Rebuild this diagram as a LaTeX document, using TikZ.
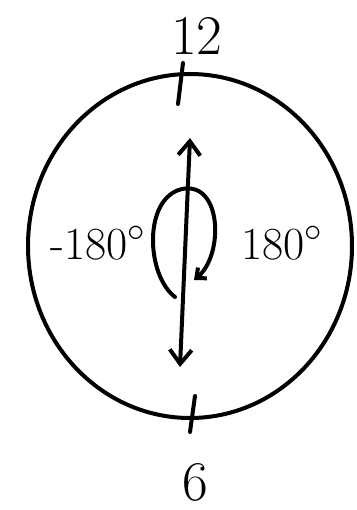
\documentclass[tikz,border=0pt]{standalone}
\usetikzlibrary{arrows.meta,shapes.geometric}
\tikzset{
  barb/.tip={Straight Barb[length=7pt,width=11pt,line width=2pt]},
  hook/.tip={Straight Barb[length=4pt,width=7pt,line width=2pt]}
}
\begin{document}
\begin{tikzpicture}[x=0.5pt,y=-0.5pt,
  stroke/.style={line width=2pt,line cap=round,line join=round},
  face/.style={draw,ellipse,line width=2pt,minimum width=162pt,minimum height=172pt,inner sep=0pt},
  numlabel/.style={font=\fontsize{28}{32}\selectfont,inner sep=0pt},
  anglabel/.style={font=\fontsize{23}{27}\selectfont,inner sep=0pt}
]
  \useasboundingbox (0,0) rectangle (357,510);
  \node[face] (clock) at (190,246) {};
  % hour marks
  \coordinate (ttop) at (183,63);
  \coordinate (tbot) at (178,104);
  \coordinate (btop) at (195,396);
  \coordinate (bbot) at (190,432);
  \draw[stroke] (ttop) -- (tbot);
  \draw[stroke] (btop) -- (bbot);
  \node[numlabel] (twelve) at (197,36) {12};
  \node[numlabel] (six) at (195,482) {6};
  % axis and turn
  \coordinate (up) at (190,138);
  \coordinate (down) at (180,367);
  \draw[stroke,barb-barb] (down) -- (up);
  \coordinate (ls) at (175,297);
  \coordinate (le) at (194,280);
  \draw[stroke,-hook] (ls) .. controls (146,275) and (143,198) .. (182,189)
    .. controls (222,181) and (224,255) .. (le);
  \node[anglabel] (neg) at (98,243) {-180$^{\circ}$};
  \node[anglabel] (pos) at (282,243) {180$^{\circ}$};
\end{tikzpicture}
\end{document}
